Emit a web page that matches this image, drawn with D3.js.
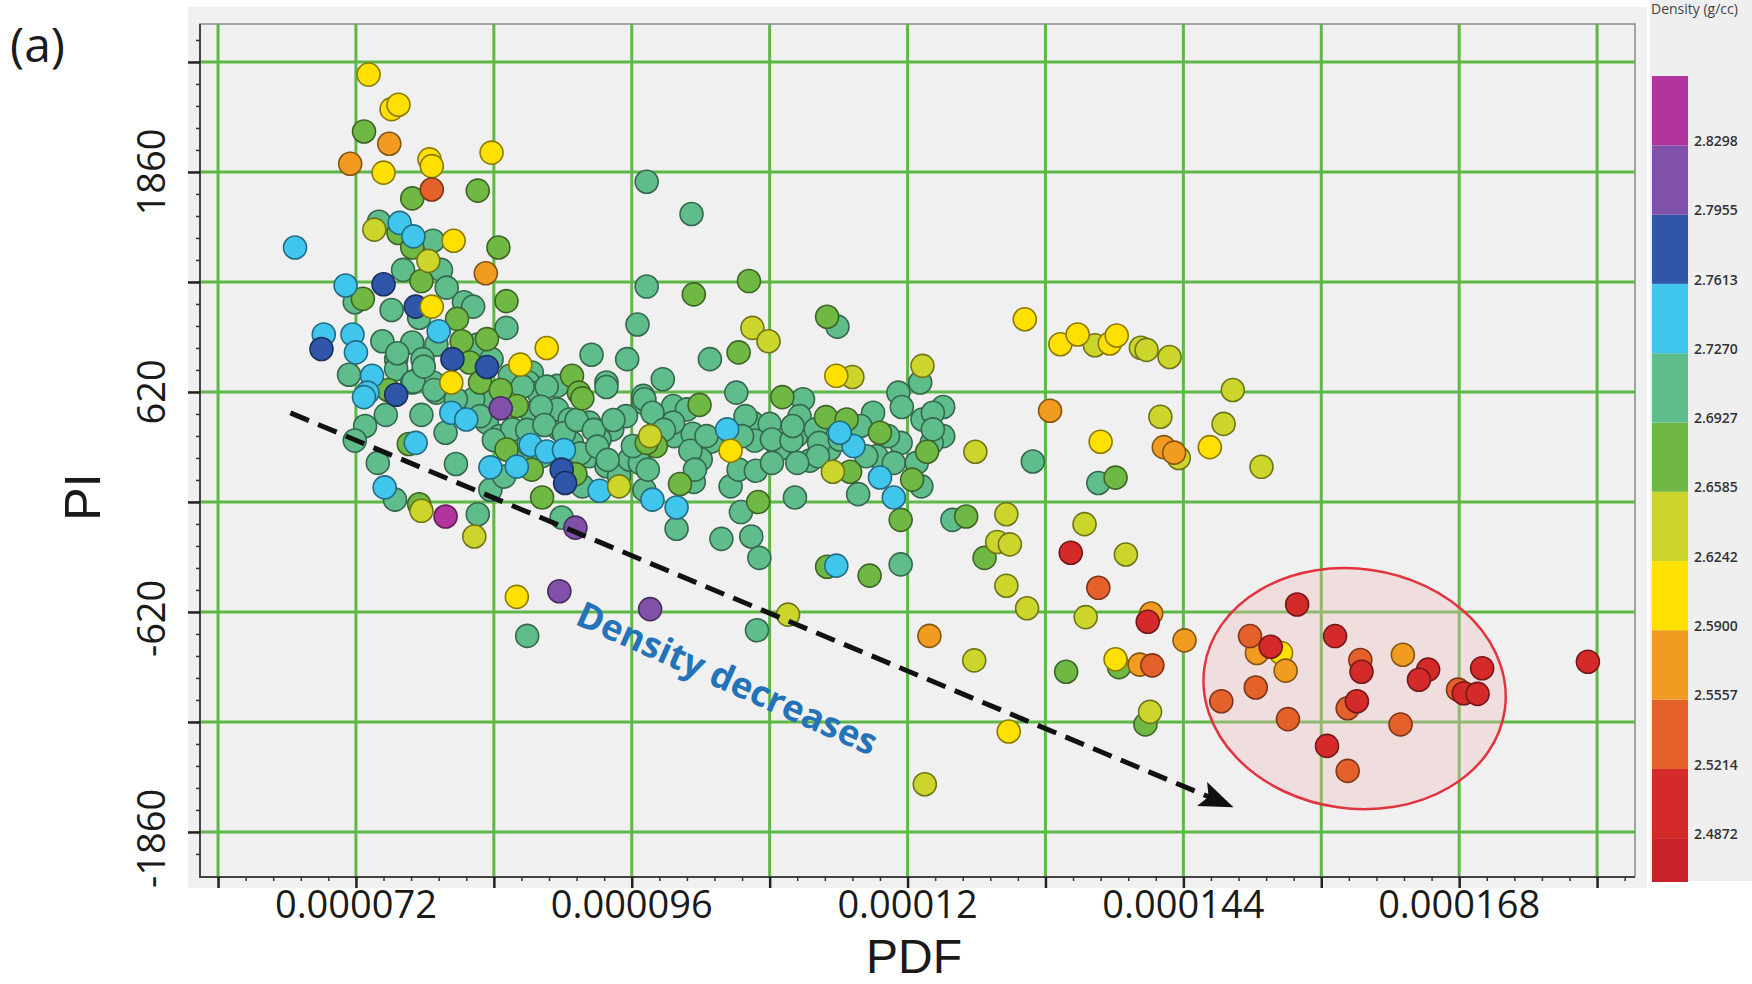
<!DOCTYPE html>
<html>
<head>
<meta charset="utf-8">
<script src="https://cdn.jsdelivr.net/npm/d3@7/dist/d3.min.js"></script>
<style>
  body { margin: 0; background: #fff; }
  text { font-family: "Open Sans", "DejaVu Sans", sans-serif; }
</style>
</head>
<body>
<div id="chart"></div>
<script>
// axis grid / ticks  (PDF is kept in units of 1e-6)
var xGrid = [60, 72, 84, 96, 108, 120, 132, 144, 156, 168, 180];
var xTickValues = [72, 96, 120, 144, 168];
var xTickLabels = ["0.000072", "0.000096", "0.00012", "0.000144", "0.000168"];
var yGrid = [2480, 1860, 1240, 620, 0, -620, -1240, -1860];
var yTickValues = [1860, 620, -620, -1860];
var yTickLabels = ["1860", "620", "-620", "-1860"];

// colour bar (density, g/cc)
var colorbarTicks = [2.4872, 2.5214, 2.5557, 2.5900, 2.6242, 2.6585, 2.6927, 2.7270, 2.7613, 2.7955, 2.8298];
var colorbarLabels = ["2.4872", "2.5214", "2.5557", "2.5900", "2.6242", "2.6585", "2.6927", "2.7270", "2.7613", "2.7955", "2.8298"];
var bandColors = ["#c9222b", "#d42a2a", "#e5612b", "#f29b21", "#ffe000", "#ccd52b",
                  "#6fb843", "#5fbd8c", "#40c5ec", "#2f56a9", "#8150a8", "#b2359e"];

// samples, [PDF (1e-6), PI], one array per density class
var tealPts = [[97.3,1805],[74.0,1579],[78.7,1472],[76.1,1308],[79.4,1308],[71.9,1126],[75.1,1082],[79.9,1208],[81.4,1126],[82.2,1101],
  [77.5,1038],[85.1,981],[74.3,906],[76.9,899],[79.0,887],[82.6,887],[92.5,830],[95.6,805],[96.5,1000],[97.3,1214],
  [71.4,717],[75.5,805],[75.5,749],[77.8,805],[77.7,711],[83.8,805],[87.3,730],[93.8,673],[97.0,598],[98.7,692],
  [76.9,673],[78.7,673],[85.4,711],[87.0,673],[89.5,654],[74.6,491],[72.8,428],[73.9,220],[77.7,491],[79.8,390],
  [80.7,214],[75.4,13],[82.6,-69],[83.7,69],[79.0,616],[83.4,447],[84.5,371],[86.0,258],[89.9,-88],[91.7,88],
  [86.9,-755],[85.6,409],[87.0,327],[88.2,258],[89.7,409],[90.8,333],[92.3,258],[93.8,201],[94.9,145],[95.8,239],
  [96.7,220],[97.0,560],[93.8,648],[89.5,522],[87.3,503],[83.8,579],[82.2,579],[87.9,616],[92.3,447],[94.3,409],
  [96.1,315],[71.9,346],[80.7,579],[82.8,484],[90.6,465],[95.5,484],[93.2,352],[101.2,1623],[113.9,988],[102.8,805],
  [121.1,673],[105.1,616],[119.2,616],[110.9,579],[123.1,535],[97.1,579],[99.6,541],[100.8,522],[98.2,390],[99.7,371],
  [101.3,384],[102.9,340],[102.0,239],[106.5,447],[108.0,440],[106.7,346],[108.8,296],[110.3,371],[111.5,233],[110.6,484],
  [112.0,409],[113.2,296],[117.0,503],[119.5,535],[121.3,465],[123.1,371],[117.3,258],[119.4,333],[118.8,220],[115.7,44],
  [121.2,88],[101.4,113],[99.9,-151],[104.6,88],[105.3,182],[106.8,176],[105.5,-57],[103.8,-208],[106.4,-195],[107.1,-315],
  [110.2,25],[123.9,-101],[119.4,-352],[105.9,484],[108.2,352],[109.9,346],[112.3,333],[122.2,503],[101.1,289],[99.6,447],
  [97.8,503],[106.9,-723],[130.9,228],[136.6,107],
  [77.0,678],[78.8,631],[86.5,650],[88.6,650],[88.1,537],[86.9,406],[88.4,434],[90.1,387],[91.2,462],[92.7,406],
  [94.4,462],[98.8,406],[84.0,349],[91.5,274],[93.0,312],[93.9,237],[84.9,143],[97.1,68],[77.9,763],[75.6,838],
  [102.5,371],[105.6,371],[110.0,428],[114.1,352],[115.9,428],[118.3,371],[116.4,258],[120.8,220],[122.1,333],[122.2,409],
  [112.2,258],[110.4,220],[108.2,220],[101.5,182],[97.4,182]];
var greenPts = [[72.7,2088],[76.9,1711],[82.6,1755],[75.7,1516],[76.9,1434],[84.4,1434],[77.7,1245],[72.6,1145],[85.1,1132],[80.8,1032],
  [81.2,906],[83.4,918],[81.9,786],[90.8,711],[82.8,673],[91.4,616],[76.6,327],[77.5,-13],[85.1,296],[87.3,182],
  [88.2,25],[91.1,157],[86.0,541],[98.1,315],[101.4,1170],[106.2,1245],[105.3,843],[113.0,1044],[109.1,591],[101.9,547],
  [97.3,333],[112.9,478],[114.7,465],[117.6,390],[121.7,283],[115.0,170],[120.4,126],[100.2,101],[107.0,0],[119.4,-101],
  [125.1,-82],[126.7,-315],[113.0,-365],[116.7,-415],[138.1,137],[138.4,-931],[133.8,-957],[140.7,-1254],
  [74.8,631],[84.6,631],[91.7,584]];
var cyanPts = [[66.7,1434],[75.8,1573],[77.0,1497],[71.1,1220],[79.2,962],[69.2,944],[71.7,944],[72.0,843],[73.4,711],[73.0,616],
  [72.7,591],[77.2,333],[74.5,82],[83.7,195],[80.3,503],[81.6,465],[93.2,63],[97.8,13],[104.3,409],[115.3,315],
  [117.6,138],[118.8,25],[99.9,-31],[113.8,-359],[114.1,390],[87.2,321],[88.6,284],[90.1,293],[86.0,199]];
var bluePts = [[74.4,1227],[77.2,1101],[69.0,862],[80.4,805],[83.4,761],[75.5,604],[89.9,182],[90.2,107]];
var purplePts = [[84.6,528],[91.1,-145],[89.7,-503],[97.6,-604]];
var magentaPts = [[79.8,-82]];
var limePts = [[73.6,1535],[78.3,1359],[77.7,-50],[82.3,-195],[94.9,88],[97.6,371],[106.5,981],[107.9,906],[115.2,704],[121.3,767],
  [125.9,283],[113.5,170],[128.6,-69],[127.8,-226],[128.9,-239],[128.6,-472],[109.6,-635],[125.8,-893],[121.5,-1591],[136.3,883],
  [140.3,869],[140.8,857],[142.8,817],[148.3,631],[142.0,480],[147.5,440],[143.6,248],[150.8,198],[135.4,-125],[139.0,-296],
  [130.4,-599],[135.5,-649],[141.1,-1183]];
var yellowPts = [[73.1,2409],[75.1,2214],[75.7,2239],[74.4,1856],[78.4,1931],[78.6,1893],[83.8,1969],[80.5,1472],[78.6,1101],[88.6,868],
  [86.3,774],[80.3,673],[86.0,-535],[113.8,711],[104.6,289],[130.2,1030],[133.3,889],[134.8,944],[137.6,893],[138.2,938],
  [136.8,339],[146.3,309],[138.1,-887],[128.8,-1294],[152.5,-851]];
var orangePts = [[74.9,2019],[71.5,1906],[83.3,1289],[121.9,-755],[132.4,514],[142.3,309],[143.2,278],[141.2,-629],[144.1,-780],[140.2,-917],
  [150.4,-851],[152.9,-951],[163.1,-861]];
var redOrangePts = [[78.6,1761],[136.6,-484],[141.3,-921],[149.8,-756],[159.4,-891],[167.9,-1058],[150.3,-1046],[147.3,-1123],[153.1,-1224],[158.3,-1163],
  [162.9,-1254],[158.3,-1516]];
var redPts = [[134.2,-286],[140.9,-675],[153.9,-578],[151.6,-816],[157.2,-756],[159.5,-957],[165.3,-945],[164.5,-1002],[170.0,-937],[168.4,-1078],
  [169.6,-1082],[159.1,-1123],[156.5,-1375],[179.2,-901]];

var groups = [
  {density: 2.710, pts: tealPts},
  {density: 2.675, pts: greenPts},
  {density: 2.745, pts: cyanPts},
  {density: 2.780, pts: bluePts},
  {density: 2.810, pts: purplePts},
  {density: 2.845, pts: magentaPts},
  {density: 2.640, pts: limePts},
  {density: 2.605, pts: yellowPts},
  {density: 2.570, pts: orangePts},
  {density: 2.540, pts: redOrangePts},
  {density: 2.505, pts: redPts}
];

// annotations
var arrowFrom = [66.3, 502], arrowTo = [148.2, -1716];
var noteAt = [104.2, -1010];
var ellipseBox = {left: 145.7, right: 172.1, top: -377, bottom: -1728};

var svg = d3.select("#chart").append("svg")
    .attr("width", 1752)
    .attr("height", 984);

svg.append("rect").attr("width", 1752).attr("height", 984).attr("fill", "#fff");

// grey panels
svg.append("rect").attr("x", 188).attr("y", 7).attr("width", 1459).attr("height", 881).attr("fill", "#f0f0f0");
svg.append("rect").attr("x", 1650).attr("y", 0).attr("width", 102).attr("height", 881).attr("fill", "#efefef");

var plot = {left: 200, right: 1635, top: 24, bottom: 877};

var x = d3.scaleLinear().domain([58.43, 183.3]).range([plot.left, plot.right]);
var y = d3.scaleLinear().domain([-2114, 2694]).range([plot.bottom, plot.top]);

var color = d3.scaleThreshold().domain(colorbarTicks).range(bandColors);

// grid
svg.append("g").selectAll("line").data(xGrid).enter().append("line")
    .attr("x1", function(d) { return x(d); })
    .attr("x2", function(d) { return x(d); })
    .attr("y1", plot.top).attr("y2", plot.bottom)
    .attr("stroke", "#5db847").attr("stroke-width", 3);
svg.append("g").selectAll("line").data(yGrid).enter().append("line")
    .attr("y1", function(d) { return y(d); })
    .attr("y2", function(d) { return y(d); })
    .attr("x1", plot.left).attr("x2", plot.right)
    .attr("stroke", "#5db847").attr("stroke-width", 3);

// frame
svg.append("rect")
    .attr("x", plot.left).attr("y", plot.top)
    .attr("width", plot.right - plot.left).attr("height", plot.bottom - plot.top)
    .attr("fill", "none").attr("stroke", "#8a8a8a").attr("stroke-width", 1.5);
svg.append("path")
    .attr("d", "M" + plot.left + "," + plot.top + "V" + plot.bottom + "H" + plot.right)
    .attr("fill", "none").attr("stroke", "#444").attr("stroke-width", 2);

// x axis ticks
var xMinor = d3.range(0, 53).map(function(i) { return 60 + i * 2.4; })
    .filter(function(v) { return v <= 183.3; });
svg.append("g")
    .attr("transform", "translate(0," + plot.bottom + ")")
    .call(d3.axisBottom(x).tickValues(xMinor).tickSize(4).tickFormat(""))
    .call(function(g) { g.select(".domain").remove(); g.selectAll("line").attr("stroke", "#333").attr("stroke-width", 1.5); });
svg.append("g")
    .attr("transform", "translate(0," + plot.bottom + ")")
    .call(d3.axisBottom(x).tickValues(xGrid).tickSize(11).tickFormat(""))
    .call(function(g) { g.select(".domain").remove(); g.selectAll("line").attr("stroke", "#222").attr("stroke-width", 2.5); });
svg.append("g").selectAll("text").data(xTickValues).enter().append("text")
    .attr("x", function(d) { return x(d); })
    .attr("y", 918)
    .attr("text-anchor", "middle")
    .attr("font-size", 38)
    .attr("fill", "#1a1a1a")
    .text(function(d, i) { return xTickLabels[i]; });

// y axis ticks
var yMinor = d3.range(0, 39).map(function(i) { return -1984 + i * 124; })
    .filter(function(v) { return v <= 2694; });
svg.append("g")
    .attr("transform", "translate(" + plot.left + ",0)")
    .call(d3.axisLeft(y).tickValues(yMinor).tickSize(4).tickFormat(""))
    .call(function(g) { g.select(".domain").remove(); g.selectAll("line").attr("stroke", "#333").attr("stroke-width", 1.5); });
svg.append("g")
    .attr("transform", "translate(" + plot.left + ",0)")
    .call(d3.axisLeft(y).tickValues(yGrid).tickSize(12).tickFormat(""))
    .call(function(g) { g.select(".domain").remove(); g.selectAll("line").attr("stroke", "#222").attr("stroke-width", 2.5); });
svg.append("g").selectAll("text").data(yTickValues).enter().append("text")
    .attr("transform", function(d) { return "translate(165," + y(d) + ") rotate(-90)"; })
    .attr("text-anchor", "middle")
    .attr("dx", function(d) { return d < 0 ? "-0.17em" : 0; })
    .attr("font-size", 38)
    .attr("fill", "#1a1a1a")
    .text(function(d, i) { return yTickLabels[i]; });

// axis titles
svg.append("text").attr("x", 914).attr("y", 973)
    .attr("text-anchor", "middle").attr("font-size", 48)
    .style("font-family", "'Liberation Sans', Arial, sans-serif")
    .attr("fill", "#1a1a1a").text("PDF");
svg.append("text").attr("transform", "translate(100,497) rotate(-90)")
    .attr("text-anchor", "middle").attr("font-size", 50)
    .style("font-family", "'Liberation Sans', Arial, sans-serif")
    .attr("fill", "#1a1a1a").text("PI");
svg.append("text").attr("x", 10).attr("y", 62)
    .attr("font-size", 48).attr("fill", "#1a1a1a").text("(a)");

// highlighted low-density zone
var ecx = x((ellipseBox.left + ellipseBox.right) / 2),
    ecy = y((ellipseBox.top + ellipseBox.bottom) / 2);
svg.append("ellipse")
    .attr("transform", "translate(" + ecx + "," + ecy + ") rotate(8)")
    .attr("rx", (x(ellipseBox.right) - x(ellipseBox.left)) / 2)
    .attr("ry", (y(ellipseBox.bottom) - y(ellipseBox.top)) / 2)
    .attr("fill", "#f2b9bd").attr("fill-opacity", 0.35)
    .attr("stroke", "#e2343f").attr("stroke-width", 2.5);

// points
var dots = svg.append("g");
groups.forEach(function(gr) {
  var c = color(gr.density);
  dots.append("g").selectAll("circle").data(gr.pts).enter().append("circle")
      .attr("cx", function(d) { return x(d[0]); })
      .attr("cy", function(d) { return y(d[1]); })
      .attr("r", 11.5)
      .attr("fill", c)
      .attr("stroke", d3.color(c).darker(1.7))
      .attr("stroke-width", 1.6);
});

// trend arrow
svg.append("defs").append("marker")
    .attr("id", "head")
    .attr("markerUnits", "userSpaceOnUse")
    .attr("viewBox", "0 0 34 26")
    .attr("markerWidth", 34).attr("markerHeight", 26)
    .attr("refX", 32).attr("refY", 13)
    .attr("orient", "auto")
  .append("path")
    .attr("d", "M0,0 L34,13 L0,26 L7,13 Z")
    .attr("fill", "#111");
svg.append("line")
    .attr("x1", x(arrowFrom[0])).attr("y1", y(arrowFrom[1]))
    .attr("x2", x(arrowTo[0])).attr("y2", y(arrowTo[1]))
    .attr("stroke", "#111").attr("stroke-width", 5)
    .attr("stroke-dasharray", "20,10")
    .attr("marker-end", "url(#head)");
svg.append("text")
    .attr("transform", "translate(" + x(noteAt[0]) + "," + y(noteAt[1]) + ") rotate(24)")
    .attr("text-anchor", "middle")
    .attr("dominant-baseline", "middle")
    .attr("font-size", 36)
    .attr("font-weight", 700)
    .attr("fill", "#2473b8")
    .text("Density decreases");

// colour bar
var yc = d3.scaleLinear().domain([2.4655, 2.8641]).range([882, 76]);
var bandEdges = [yc.domain()[0]].concat(colorbarTicks, [yc.domain()[1]]);
svg.append("g").selectAll("rect").data(bandColors).enter().append("rect")
    .attr("x", 1652)
    .attr("width", 36)
    .attr("y", function(d, i) { return yc(bandEdges[i + 1]); })
    .attr("height", function(d, i) { return yc(bandEdges[i]) - yc(bandEdges[i + 1]); })
    .attr("fill", function(d) { return d; });
svg.append("g").selectAll("text").data(colorbarTicks).enter().append("text")
    .attr("x", 1694)
    .attr("y", function(d) { return yc(d) - 3; })
    .attr("dominant-baseline", "middle")
    .attr("font-size", 14)
    .attr("font-weight", 600)
    .attr("fill", "#333")
    .text(function(d, i) { return colorbarLabels[i]; });
svg.append("text").attr("x", 1651).attr("y", 14)
    .attr("font-size", 14).attr("fill", "#444").text("Density (g/cc)");
</script>
</body>
</html>
